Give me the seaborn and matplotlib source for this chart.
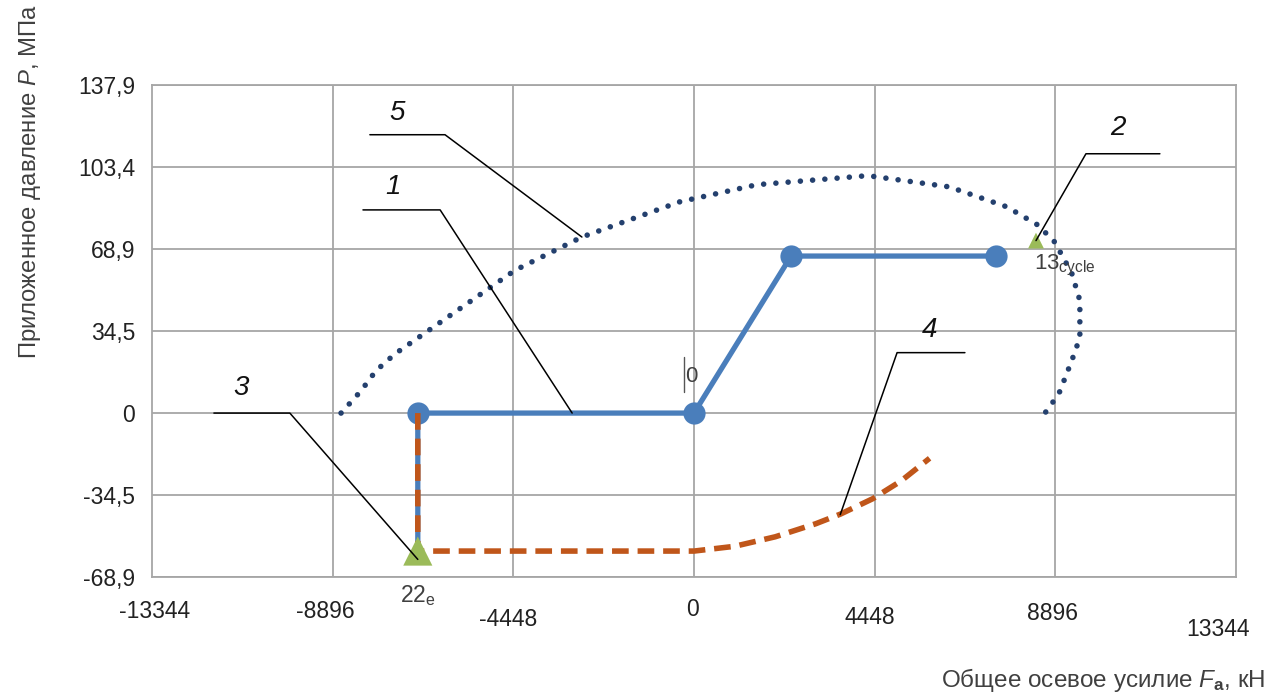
import numpy as np
import pandas as pd
import matplotlib
matplotlib.use('Agg')
import matplotlib.pyplot as plt
import seaborn as sns

# --- data ---
x_tick_labels = ['-13344', '-8896', '-4448', '0', '4448', '8896', '13344']
x_grid = [-8896, -4448, 0, 4448, 8896]
y_tick_values = [-68.9, -34.5, 0, 34.5, 68.9, 103.4, 137.9]
y_tick_labels = ['-68,9', '-34,5', '0', '34,5', '68,9', '103,4', '137,9']

# 1 - loading path (blue, circles)
path_x = [-6800, -6800, 0, 2390, 7430]
path_y = [-58, 0, 0, 66, 66]

# 4 - brown dashed curve
c4_x = [-6800, -6800, 0, 1000, 2000, 3000, 3600, 4400, 5100, 5800]
c4_y = [0, -58, -58, -56, -52, -46.5, -42.5, -36, -28.5, -19]

# 5 - navy dotted envelope
c5_x = [-8690, -8200, -7830, -7360, -4410, -2760, -350, 1550, 4280, 6280,
        7700, 8470, 8880, 9300, 9500, 9500, 9300, 8980, 8640]
c5_y = [0, 9.3, 17.8, 24.9, 60.0, 74.0, 88.8, 96.0, 99.8, 95.1,
        86.7, 79.0, 71.9, 58.8, 47.3, 31.7, 22.0, 8.0, 0]

# 2 and 3 - green triangle points
pt_x = [8420, -6800]
pt_y = [72.5, -58]

W, H = 1276, 693
sns.set_theme(style="white")
plt.rcParams['font.family'] = ['Liberation Sans', 'DejaVu Sans']
plt.rcParams['mathtext.fontset'] = 'custom'
plt.rcParams['mathtext.rm'] = 'Liberation Sans'
plt.rcParams['mathtext.it'] = 'Liberation Sans:italic'
plt.rcParams['mathtext.bf'] = 'Liberation Sans:bold'

fig = plt.figure(figsize=(W / 100, H / 100), dpi=100)
ax = fig.add_axes([152 / W, 1 - 577 / H, 1084 / W, 492 / H])

def px(x, y):
    return x / W, 1 - y / H

grid_c = '#a6a6a6'
blue = '#4a7ebb'
brown = '#c0561a'
navy = '#24406e'
green = '#9bbb59'
txt = '#404040'

# curves
d5 = pd.DataFrame({'x': c5_x, 'y': c5_y})
sns.lineplot(data=d5, x='x', y='y', ax=ax, estimator=None, sort=False,
             color=navy, linewidth=4.0, linestyle=(0, (0.01, 2.2)),
             dash_capstyle='round', zorder=3)

d1 = pd.DataFrame({'x': path_x, 'y': path_y})
sns.lineplot(data=d1, x='x', y='y', ax=ax, estimator=None, sort=False,
             color=blue, linewidth=3.8, marker='o', markersize=16,
             markevery=[1, 2, 3, 4], markeredgewidth=0, zorder=4)

d4 = pd.DataFrame({'x': c4_x, 'y': c4_y})
sns.lineplot(data=d4, x='x', y='y', ax=ax, estimator=None, sort=False,
             color=brown, linewidth=4.0, linestyle=(0, (3, 1.6)), zorder=5)

dp = pd.DataFrame({'x': pt_x, 'y': pt_y})
sns.scatterplot(data=dp, x='x', y='y', ax=ax, marker='^', s=[130, 440],
                color=green, edgecolor='none', zorder=6)

# axes and grid
ax.set_xlim(-13344, 13344)
ax.set_ylim(-68.9, 137.9)
ax.set_xticks(x_grid)
ax.set_xticklabels([])
ax.set_yticks(y_tick_values)
ax.set_yticklabels(y_tick_labels, fontsize=16.5, color='#222222')
ax.tick_params(length=0, pad=12)
ax.grid(True, color=grid_c, linewidth=1.3)
for s in ax.spines.values():
    s.set_color(grid_c)
    s.set_linewidth(1.3)
ax.set_xlabel('')
ax.set_ylabel('')

# irregular x tick labels
x_lab_pos = [(155, 611), (325, 612), (508, 619), (692, 609), (870, 618), (1052, 614), (1218, 630)]
for lab, (xp, yp) in zip(x_tick_labels, x_lab_pos):
    fig.text(*px(xp, yp), lab, ha='center', va='center', fontsize=16.5, color='#222222')

# axis titles
fig.text(*px(1265, 680), 'Общее осевое усилие $F_\\mathbf{a}$, кН', ha='right', va='center',
         fontsize=17.5, color=txt)
fig.text(*px(30, 182), 'Приложенное давление $P$, МПа', ha='center', va='center',
         rotation=90, fontsize=17.2, color=txt)

# callouts: number, text position, leader line
callouts = [
    ('5', (-7310, 126), [(-7980, 117), (-6130, 117), (-2760, 74)]),
    ('1', (-7410, 95), [(-8150, 85.4), (-6250, 85.4), (-3000, 0)]),
    ('2', (10440, 120), [(11470, 109), (9650, 109), (8420, 72.5)]),
    ('3', (-11150, 10.5), [(-11820, 0), (-9950, 0), (-6800, -61.5)]),
    ('4', (5810, 35), [(6670, 25.4), (5000, 25.4), (3600, -42.7)]),
]
for num, (tx, ty), pts in callouts:
    ax.text(tx, ty, num, fontsize=20, style='italic', ha='center', va='center', color='#111111')
    lx, ly = zip(*pts)
    ax.plot(lx, ly, color='black', linewidth=1.1, zorder=7)

# point labels
fig.text(*px(418, 596), '22$_\\mathrm{e}$', ha='center', va='center', fontsize=16.5, color=txt)
fig.text(*px(1034, 265), '13$_\\mathrm{cycle}$', ha='left', va='center', fontsize=16, color=txt)
fig.text(*px(691, 376), '0', ha='center', va='center', fontsize=16, color=txt)
fig.add_artist(plt.Line2D([684 / W, 684 / W], [1 - 357 / H, 1 - 392 / H], color='#555555', lw=1))

fig.savefig('out.png', dpi=100)
